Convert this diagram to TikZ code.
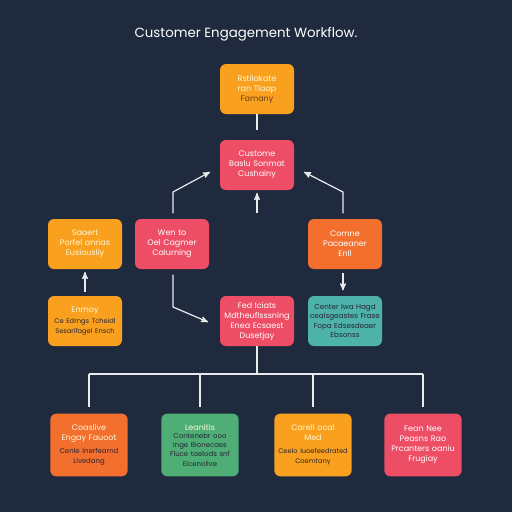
\documentclass[tikz,border=0pt]{standalone}
\usepackage{fontspec}
\setmainfont{Poppins}
\usepackage{tikz}
\usetikzlibrary{shapes,arrows}

\definecolor{bgnavy}{RGB}{31,42,62}
\definecolor{boxorange}{RGB}{249,161,30}
\definecolor{boxpink}{RGB}{238,78,101}
\definecolor{boxrust}{RGB}{243,111,45}
\definecolor{boxteal}{RGB}{77,178,170}
\definecolor{boxgreen}{RGB}{78,174,118}
\definecolor{linegrey}{RGB}{232,234,238}
\definecolor{inkdark}{RGB}{40,36,50}
\definecolor{inkbrown}{RGB}{110,60,20}
\definecolor{inkpale}{RGB}{255,246,215}

\tikzset{
  box/.style={draw=none, rounded corners=4.5pt, align=center, inner sep=1pt,
    minimum width=55.5pt, minimum height=37.5pt, text width=53pt,
    font=\fontsize{6}{7.5}\selectfont},
  lowbox/.style={box, minimum width=57pt, minimum height=47pt, text width=56pt},
  flow/.style={draw=linegrey, line width=0.9pt, -stealth'},
  link/.style={draw=linegrey, line width=0.9pt}
}

\begin{document}
\begin{tikzpicture}[x=0.75pt,y=0.75pt,yscale=-1,xscale=1]
    \useasboundingbox (0,0) rectangle (512,512);
    \fill[bgnavy] (0,0) rectangle (512,512);

    % Title
    \node (title) at (246,34) [text=white, font=\fontsize{10}{12}\selectfont] {Customer Engagement Workflow.};

    %Shape: Rounded Rect [top]
    \node (top) at (257,89) [box, fill=boxorange, text=inkpale] {Rstilakate\\ ran Tlaap\\ {\color{inkbrown}Famany}};
    %Shape: Rounded Rect [custome]
    \node (cust) at (257,165) [box, fill=boxpink, text=white] {Custome\\ Baslu Sonmat\\ Cushainy};

    %Shape: Rounded Rect [row 2]
    \node (saaert) at (85,244) [box, fill=boxorange, text=inkpale] {Saaert\\ Porfel anrias\\ Eusiousliy};
    \node (wento) at (172,244) [box, fill=boxpink, text=white] {Wen to\\ Oel Cagmer\\ Calurning};
    \node (comne) at (345,244) [box, fill=boxrust, text=white] {Comne\\ Pacaeaner\\ Enll};

    %Shape: Rounded Rect [row 3]
    \node (enmoy) at (85,321) [box, fill=boxorange, text=inkpale] {Enmoy\\[2pt] {\color{inkdark}\fontsize{5}{6.5}\selectfont Ce Edmgs Tcheidl\\ Sesarifagel Ensch}};
    \node (fed) at (257,321) [box, fill=boxpink, text=white] {Fed Iciats\\ Mdtheuflsssning\\ Enea Ecsaest\\ Dusetjay};
    \node (center) at (345,321) [box, fill=boxteal, text=inkdark, font=\fontsize{5.4}{7}\selectfont] {Center Iwa Hagd\\ cealsgeastes Frase\\ Fopa Edsesdeaer\\ Ebsonss};

    %Shape: Rounded Rect [bottom row]
    \node (coaslive) at (89,445) [lowbox, fill=boxrust, text=inkpale] {Coaslive\\ Engay Fauoot\\[3pt] {\color{inkdark}\fontsize{5.2}{6.5}\selectfont Cenle Inerfearnd\\ Livedang}};
    \node (leanitis) at (200,445) [lowbox, fill=boxgreen, text=inkpale] {Leanitis\\ {\color{inkdark}\fontsize{5.2}{6.5}\selectfont Contenebr ooo\\ Inge Bionecaes\\ Fluce taelods snf\\ Eicenolive}};
    \node (carell) at (313,445) [lowbox, fill=boxorange, text=inkpale] {Carell ocal\\ Med\\[3pt] {\color{inkdark}\fontsize{5}{6.5}\selectfont Ceelo Iuoefeedrated\\ Coemtany}};
    \node (fean) at (423,445) [lowbox, fill=boxpink, text=white] {Fean Nee\\ Peasns Rao\\ Prcanters oaniu\\ Frugiay};

    %Coordinates for free ends
    \coordinate (lbend) at (173,192);
    \coordinate (lend) at (210,172);
    \coordinate (rbend) at (343,192);
    \coordinate (rend) at (304,172);
    \coordinate (mstart) at (257,213);
    \coordinate (dbend) at (173,307);
    \coordinate (dend) at (208,322);
    \coordinate (hub) at (257,374);
    \coordinate (hleft) at (89,374);
    \coordinate (hright) at (423,374);

    %Straight Lines
    \draw [link, shorten >=7pt] (top.south) -- (cust.north);
    \draw [flow, shorten >=2pt] (mstart) -- (cust.south);
    \draw [flow, shorten <=4pt] (wento.north -| lbend) -- (lbend) -- (lend);
    \draw [flow, shorten <=4pt] (comne.north -| rbend) -- (rbend) -- (rend);
    \draw [flow, shorten <=3pt, shorten >=2pt] (enmoy.north) -- (saaert.south);
    \draw [flow, shorten <=4pt] (wento.south -| dbend) -- (dbend) -- (dend);
    \draw [flow, shorten <=3pt, shorten >=4pt] (comne.south -| rbend) -- (center.north -| rbend);

    %Tree lines
    \draw [link] (fed.south) -- (hub);
    \draw [link] (hleft) -- (hright);
    \draw [link, shorten >=5pt] (hleft) -- (coaslive.north);
    \draw [link, shorten >=5pt] (hleft -| leanitis) -- (leanitis.north);
    \draw [link, shorten >=5pt] (hleft -| carell) -- (carell.north);
    \draw [link, shorten >=5pt] (hright) -- (fean.north);

\end{tikzpicture}
\end{document}
